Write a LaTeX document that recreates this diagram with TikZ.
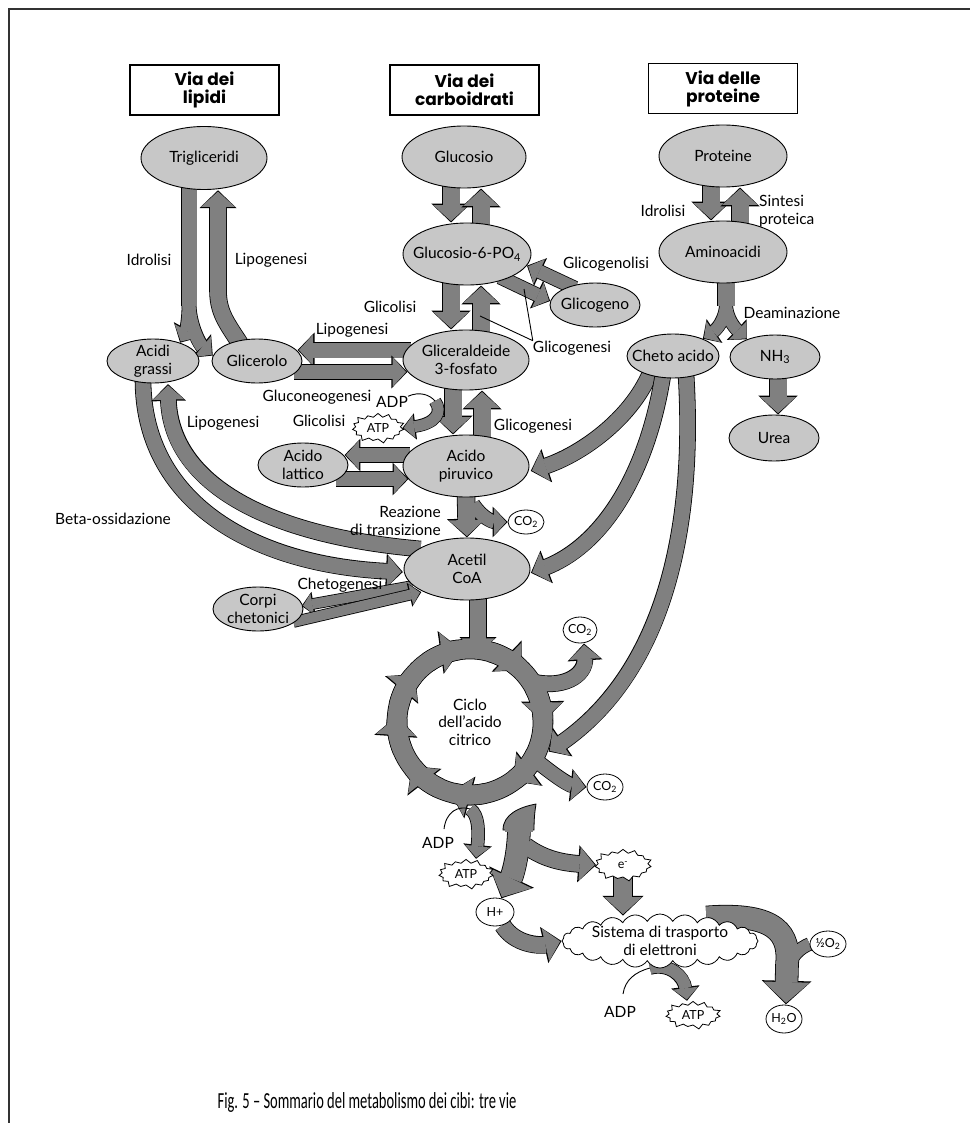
\documentclass[tikz,border=0pt]{standalone}
\usepackage{fontspec}
\setmainfont{Lato}
\newfontfamily\hdrface{Poppins}
\newfontfamily\capface{Carlito}
\usetikzlibrary{shapes.geometric,shapes.symbols,decorations.markings}
\pgfdeclarelayer{bg}
\pgfsetlayers{bg,main}
\definecolor{ellgray}{gray}{0.78}
\definecolor{arrgray}{gray}{0.50}
\newcommand\lblfont{\fontsize{15.5}{17.5}\selectfont}
\newcommand\smlfont{\fontsize{12.5}{13}\selectfont}
\newcommand\hdrfnt{\hdrface\bfseries\fontsize{17}{18}\selectfont}
\newcommand\capfnt{\capface\fontsize{23}{25}\selectfont}
\tikzset{
  headk/.style={decorate, decoration={markings, mark=at position 0.998 with {\fill[black, shorten >=0pt, shorten <=0pt] (0pt,0pt) -- (-0.95*#1-2.6pt, 1.05*#1+1.7pt) -- (-0.95*#1-2.6pt, -1.05*#1-1.7pt) -- cycle;}}},
  headg/.style={decorate, decoration={markings, mark=at position 0.998 with {\fill[arrgray, shorten >=0pt, shorten <=0pt] (-1.3pt,0pt) -- (-0.95*#1-1.3pt, 1.05*#1) -- (-0.95*#1-1.3pt, -1.05*#1) -- cycle;}}},
  ak/.style={draw=black, line width=#1+1.6pt, shorten >=0.95*#1, postaction={headk=#1}},
  ag/.style={draw=arrgray, line width=#1, shorten >=0.95*#1+1.3pt, postaction={headg=#1}},
  sk/.style={draw=black, line width=#1+1.6pt},
  sg/.style={draw=arrgray, line width=#1},
  ar/.style={preaction={draw=black, line width=#1+1.6pt, shorten >=0.95*#1}, preaction={headk=#1},
             draw=arrgray, line width=#1, shorten >=0.95*#1+1.3pt, postaction={headg=#1}},
  ell/.style={ellipse, draw=black, line width=0.9pt, fill=ellgray, inner sep=0pt,
              label={[lab, align=center]center:{#1}}},
  wel/.style={ellipse, draw=black, line width=0.8pt, fill=white, inner sep=0pt,
              label={[inner sep=0pt, font=\smlfont]center:{#1}}},
  lab/.style={inner sep=0pt, font=\lblfont},
  hdr/.style={draw=black, line width=1.1pt, fill=white, minimum width=149pt, minimum height=50pt,
              align=center, font=\hdrfnt, inner sep=0pt},
  burst/.style={starburst, draw=black, line width=0.8pt, fill=white, starburst points=15,
              starburst point height=5pt, inner sep=0pt,
              label={[inner sep=0pt, font=\smlfont]center:{#1}}},
  thinl/.style={draw=black, line width=0.9pt}
}
\begin{document}
\begin{tikzpicture}[x=1pt,y=-1pt]
\useasboundingbox (0,0) rectangle (970,1123);
\draw[line width=1.5pt, black!80] (9,1123) -- (9,9) -- (970,9);

% headers
\node[hdr] (h1) at (204.5,90) {Via dei\\lipidi};
\node[hdr] (h2) at (464.5,90) {Via dei\\carboidrati};
\node[hdr] (h3) at (723,88.5) {Via delle\\proteine};

% ellipses
\node[ell={Trigliceridi}, minimum width=126pt, minimum height=63pt] (trig) at (204,158) {};
\node[ell={Glucosio}, minimum width=124pt, minimum height=62pt] (gluc) at (464,157) {};
\node[ell={Glucosio-6-PO\textsubscript{4}}, minimum width=128pt, minimum height=62pt] (g6p) at (467,254) {};
\node[ell={Glicogeno}, minimum width=90pt, minimum height=44pt] (glicogeno) at (595,305) {};
\node[ell={Proteine}, minimum width=128pt, minimum height=62pt] (prot) at (723,156) {};
\node[ell={Aminoacidi}, minimum width=128pt, minimum height=62pt] (amino) at (723,252) {};
\node[ell={Cheto acido}, minimum width=92pt, minimum height=44pt] (cheto) at (673,356) {};
\node[ell={NH\textsubscript{3}}, minimum width=90pt, minimum height=44pt] (nh3) at (775,357) {};
\node[ell={Urea}, minimum width=90pt, minimum height=46pt] (urea) at (774,438) {};
\node[ell={Acidi\\grassi}, minimum width=92pt, minimum height=44pt] (agrassi) at (153,361) {};
\node[ell={Glicerolo}, minimum width=90pt, minimum height=44pt] (glicerolo) at (257,361) {};
\node[ell={Gliceraldeide\\3-fosfato}, minimum width=126pt, minimum height=60pt] (g3p) at (466,360) {};
\node[ell={Acido\\lattico}, minimum width=90pt, minimum height=44pt] (lattico) at (303,465) {};
\node[ell={Acido\\piruvico}, minimum width=126pt, minimum height=62pt] (piruv) at (466,466) {};
\node[ell={Acetil\\CoA}, minimum width=126pt, minimum height=62pt] (acetil) at (467,569) {};
\node[ell={Corpi\\chetonici}, minimum width=90pt, minimum height=44pt] (corpi) at (258,609) {};

\node[wel={CO\textsubscript{2}}, minimum width=36pt, minimum height=24pt] (co2a) at (526,522) {};
\node[wel={CO\textsubscript{2}}, minimum width=34pt, minimum height=26pt] (co2b) at (580,630) {};
\node[wel={CO\textsubscript{2}}, minimum width=36pt, minimum height=26pt] (co2c) at (605,787) {};
\node[wel={H+}, minimum width=38pt, minimum height=28pt] (hplus) at (495,912) {};
\node[wel={½O\textsubscript{2}}, minimum width=36pt, minimum height=26pt] (o2) at (828,944) {};
\node[wel={H\textsubscript{2}O}, minimum width=36pt, minimum height=28pt] (h2o) at (784,1019) {};

\node[cloud, cloud puffs=24, cloud puff arc=120, aspect=3.6, draw=black, line width=0.8pt, fill=white,
      minimum width=196pt, minimum height=54pt, inner sep=0pt,
      label={[lab, align=center]center:{Sistema di trasporto\\di elettroni}}] (ets) at (660,941) {};

\node[burst={ATP}, minimum width=55pt, minimum height=32pt] (atp1) at (378,428) {};
\node[burst={ATP}, minimum width=58pt, minimum height=32pt] (atp2) at (466,874) {};
\node[burst={ATP}, minimum width=58pt, minimum height=30pt] (atp3) at (693,1015) {};
\node[burst={e\textsuperscript{-}}, minimum width=60pt, minimum height=34pt] (eminus) at (623,865) {};

\node[lab, align=center] (cyc) at (470,722) {Ciclo\\dell'acido\\citrico};

% labels
\node[lab] (l1) at (149,260) {Idrolisi};
\node[lab] (l2) at (271,260) {Lipogenesi};
\node[lab] (l3) at (606,264) {Glicogenolisi};
\node[lab] (l4) at (390,307) {Glicolisi};
\node[lab] (l5) at (352,330) {Lipogenesi};
\node[lab] (glab) at (572,348) {Glicogenesi};
\node[lab] (l7) at (317,397) {Gluconeogenesi};
\node[lab] (l8) at (319,421) {Glicolisi};
\node[lab] (adp1) at (392,402) {ADP};
\node[lab] (l9) at (223,423) {Lipogenesi};
\node[lab] (l10) at (533,426) {Glicogenesi};
\node[lab, align=right, anchor=east] (l11) at (441,521) {Reazione\\di transizione};
\node[lab] (l12) at (113,519) {Beta-ossidazione};
\node[lab] (l13) at (340,585) {Chetogenesi};
\node[lab, align=left, anchor=west] (l14) at (759,211) {Sintesi\\proteica};
\node[lab] (l15) at (663,211) {Idrolisi};
\node[lab] (l16) at (792,313) {Deaminazione};
\node[lab] (adp2) at (438,843) {ADP};
\node[lab] (adp3) at (620,1012) {ADP};
\node[font=\capfnt, inner sep=0pt] (cap) at (367,1102) {\scalebox{0.63}[1]{Fig. 5 – Sommario del metabolismo dei cibi: tre vie}};

% helper coordinates
\coordinate (fk1) at (189,302);
\coordinate (fk2) at (726,302);
\coordinate (fk3) at (519,826);
\coordinate (fk4) at (526,846);
\coordinate (gl1) at (480,316);
\coordinate (gl2) at (524,289);
\coordinate (c1) at (435,401);
\coordinate (ringT) at (478,655);
\coordinate (ringR) at (548,752);
\coordinate (rb1) at (530,681);
\coordinate (rb2) at (533,758);
\coordinate (cA) at (444,829);
\coordinate (cB) at (470,809);
\coordinate (cC) at (623,994);
\coordinate (cD) at (650,968);
\coordinate (jo) at (788,968);

% Glicogenesi leader lines
\draw[thinl] (glab.north west) -- (gl1);
\draw[thinl] (glab.north west) -- (gl2);
% thin ADP lines
\draw[thinl] (adp1.north east) .. controls (420,391) and (430,395) .. (c1);
\draw[thinl] (cA) .. controls (446,812) and (458,805) .. (cB);
\draw[thinl] (cC) .. controls (625,980) and (635,972) .. (cD);

\begin{pgfonlayer}{bg}
% lipid pathway
\path[sk=15pt] ([xshift=-15pt,yshift=4pt]trig.south) -- (189,306);
\path[ak=13pt] (fk1) .. controls (189,322) and (186,332) .. (agrassi.34);
\path[ak=13pt] (fk1) .. controls (189,325) and (200,345) .. (glicerolo.173);
\path[sg=15pt] ([xshift=-15pt,yshift=4pt]trig.south) -- (189,306);
\path[ag=13pt] (fk1) .. controls (189,322) and (186,332) .. (agrassi.34);
\path[ag=13pt] (fk1) .. controls (189,325) and (200,345) .. (glicerolo.173);
\path[ar=16pt] ([xshift=-17pt,yshift=-5pt]glicerolo.north) .. controls (226,322) and (218,312) .. (218,290) -- ([xshift=14pt]trig.south);

% carbohydrate pathway
\path[ar=17pt] ([xshift=-13pt,yshift=4pt]gluc.south) -- ([xshift=-16pt]g6p.north);
\path[ar=17pt] ([xshift=14pt,yshift=-4pt]g6p.north) -- ([xshift=17pt]gluc.south);
\path[ar=17pt] ([xshift=-16pt,yshift=4pt]g6p.south) -- ([xshift=-15pt]g3p.north);
\path[ar=17pt] ([xshift=15pt,yshift=-4pt]g3p.north) -- ([xshift=14pt]g6p.south);
\path[ar=17pt] ([xshift=-13pt,yshift=4pt]g3p.south) -- ([xshift=-13pt]piruv.north);
\path[ar=17pt] ([xshift=16pt,yshift=-4pt]piruv.north) -- ([xshift=16pt]g3p.south);
\path[ar=13pt] ([shift={(3pt,-2.5pt)}]glicogeno.140) -- (g6p.-11);
\path[ar=13pt] ([shift={(-3pt,3pt)}]g6p.-36) -- (glicogeno.175);
\path[ar=15pt] ([xshift=8pt,yshift=10pt]g3p.west) -- ([xshift=-5pt,yshift=11pt]glicerolo.east);
\path[ar=14pt] ([xshift=-8pt,yshift=-11pt]glicerolo.east) -- ([xshift=5pt,yshift=-12pt]g3p.west);
\path[ar=14pt] ([xshift=7pt,yshift=11pt]piruv.west) -- ([xshift=-4pt,yshift=10pt]lattico.east);
\path[ar=14pt] ([xshift=-12pt,yshift=-14pt]lattico.east) -- ([xshift=6pt,yshift=-13pt]piruv.west);
\path[ar=11pt] (c1) .. controls (443,412) and (436,424) .. (atp1.east);
% piruvico -> acetil with CO2
\path[ak=13pt] (473,504) .. controls (482,518) and (493,522) .. (co2a.west);
\path[ak=17pt] ([yshift=4pt]piruv.south) -- (acetil.north);
\path[ag=13pt] (473,504) .. controls (482,518) and (493,522) .. (co2a.west);
\path[ag=17pt] ([yshift=4pt]piruv.south) -- (acetil.north);
% fatty acids <-> acetil
\path[ar=15pt] ([xshift=-10pt,yshift=4pt]agrassi.south) .. controls (143,500) and (250,565) .. ([yshift=-3pt]acetil.west);
\path[ar=15pt] ([xshift=17pt,yshift=20pt]acetil.west) .. controls (260,535) and (170,480) .. ([xshift=15pt]agrassi.south);
% acetil <-> corpi chetonici
\path[ar=10pt] ([xshift=9pt,yshift=-17pt]acetil.west) -- ([xshift=-2pt,yshift=3pt]corpi.east);
\path[ar=10pt] ([xshift=-10pt,yshift=-13pt]corpi.east) -- ([xshift=18pt,yshift=-23pt]acetil.west);

% protein pathway
\path[ar=17pt] ([xshift=-12pt,yshift=4pt]prot.south) -- ([xshift=-12pt]amino.north);
\path[ar=17pt] ([xshift=17pt,yshift=-4pt]amino.north) -- ([xshift=17pt]prot.south);
\path[sk=17pt] ([xshift=3pt,yshift=4pt]amino.south) -- (726,306);
\path[ak=12pt] (fk2) .. controls (726,320) and (716,330) .. (cheto.30);
\path[ak=12pt] (fk2) .. controls (726,320) and (737,330) .. (nh3.148);
\path[sg=17pt] ([xshift=3pt,yshift=4pt]amino.south) -- (726,306);
\path[ag=12pt] (fk2) .. controls (726,320) and (716,330) .. (cheto.30);
\path[ag=12pt] (fk2) .. controls (726,320) and (737,330) .. (nh3.148);
\path[ar=17pt] ([xshift=3pt,yshift=4pt]nh3.south) -- ([xshift=4pt]urea.north);
% cheto acido arrows
\path[ar=15pt] ([xshift=-23pt,yshift=5pt]cheto.south) .. controls (630,420) and (580,455) .. ([shift={(1pt,-5pt)}]piruv.east);
\path[ar=15pt] ([xshift=-10pt,yshift=4pt]cheto.south) .. controls (648,470) and (605,545) .. ([yshift=-4pt]acetil.east);

% citric acid cycle
\path[sk=19pt] (cyc) circle[radius=73pt];
\foreach \a in {-97,-45,0,54,106,143,185,221}
  \path[ak=19pt] plot[domain=\a-28:\a, samples=14] ({470+73*cos(\x)},{722+73*sin(\x)});
\path[ak=16pt] ([xshift=11pt,yshift=4pt]acetil.south) -- (ringT);
\path[ak=15pt] (rb1) .. controls (562,690) and (586,676) .. ([xshift=4pt]co2b.south);
\path[ak=14pt] (rb2) .. controls (550,772) and (568,785) .. (co2c.west);
\path[ak=15pt] ([xshift=13pt,yshift=4pt]cheto.south) .. controls (695,520) and (668,670) .. (ringR);
\path[sg=19pt] (cyc) circle[radius=73pt];
\foreach \a in {-97,-45,0,54,106,143,185,221}
  \path[ag=19pt] plot[domain=\a-28:\a, samples=14] ({470+73*cos(\x)},{722+73*sin(\x)});
\path[ag=16pt] ([xshift=11pt,yshift=4pt]acetil.south) -- (ringT);
\path[ag=15pt] (rb1) .. controls (562,690) and (586,676) .. ([xshift=4pt]co2b.south);
\path[ag=14pt] (rb2) .. controls (550,772) and (568,785) .. (co2c.west);
\path[ag=15pt] ([xshift=13pt,yshift=4pt]cheto.south) .. controls (695,520) and (668,670) .. (ringR);

% ATP from cycle
\path[ar=12pt] (cB) .. controls (479,815) and (479,832) .. ([xshift=10pt]atp2.north);
% tapered stem splitting to e- and H+
\path[draw=black, line width=0.8pt, fill=arrgray] (536,804) .. controls (520,807) and (503,814) .. (503,830) -- (534,830) .. controls (534,818) and (535,810) .. cycle;
\path[ak=16pt] (fk4) .. controls (545,860) and (565,863) .. (eminus.west);
\path[ak=22pt] (fk3) .. controls (519,850) and (514,872) .. (hplus.65);
\path[ag=16pt] (fk4) .. controls (545,860) and (565,863) .. (eminus.west);
\path[ag=22pt] (fk3) .. controls (519,850) and (514,872) .. (hplus.65);
\path[fill=arrgray] (504.5,824) rectangle (532.5,832);
\path[ar=18pt] ([yshift=3pt]eminus.south) -- ([xshift=-37pt,yshift=-2pt]ets.north);
\path[ar=16pt] (hplus.-60) .. controls (515,945) and (540,946) .. (ets.west);
% ETS -> H2O
\path[sk=12pt] (o2.west) .. controls (800,948) and (792,955) .. (jo);
\path[ak=22pt] ([xshift=-4pt]ets.25) .. controls (778,912) and (790,935) .. (787,965) -- ([xshift=2pt]h2o.north);
\path[sg=12pt] (o2.west) .. controls (800,948) and (792,955) .. (jo);
\path[ag=22pt] ([xshift=-4pt]ets.25) .. controls (778,912) and (790,935) .. (787,965) -- ([xshift=2pt]h2o.north);
% ATP from ETS
\path[ar=12pt] (cD) .. controls (668,963) and (684,975) .. ([xshift=-6pt]atp3.north);
\end{pgfonlayer}
\end{tikzpicture}
\end{document}
